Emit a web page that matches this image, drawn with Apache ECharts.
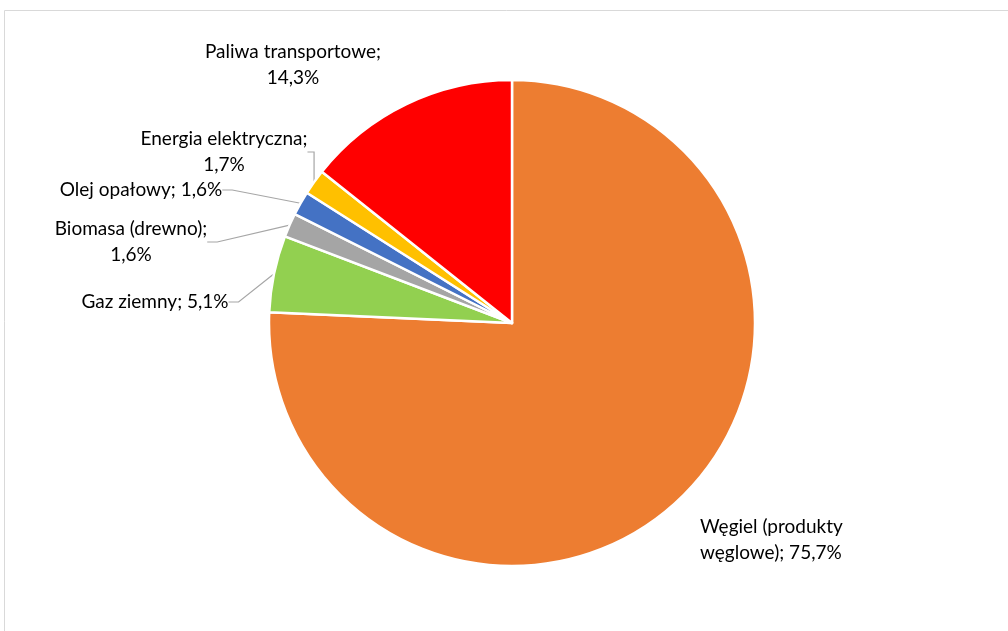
<!DOCTYPE html>
<html><head><meta charset="utf-8">
<script src="https://cdn.jsdelivr.net/npm/echarts@6/dist/echarts.min.js"></script>
<style>html,body{margin:0;padding:0;background:#fff}#c{width:1008px;height:631px}</style>
</head><body><div id="c"></div>
<script>
const names = ['Węgiel (produkty węglowe)', 'Gaz ziemny', 'Biomasa (drewno)', 'Olej opałowy', 'Energia elektryczna', 'Paliwa transportowe'];
const values = [75.7, 5.1, 1.6, 1.6, 1.7, 14.3];
const colors = ['#ED7D31', '#92D050', '#A5A5A5', '#4472C4', '#FFC000', '#FF0000'];
const labelTexts = [
  'Węgiel (produkty\nwęglowe); 75,7%',
  'Gaz ziemny; 5,1%',
  'Biomasa (drewno);\n1,6%',
  'Olej opałowy; 1,6%',
  'Energia elektryczna;\n1,7%',
  'Paliwa transportowe;\n14,3%'
];
const labelPos = [[700, 540, 'left'], [155, 302, 'center'], [131, 242, 'center'], [141, 190, 'center'], [224, 152, 'center'], [293, 65, 'center']];
const showLine = [false, true, true, true, true, false];

const chart = echarts.init(document.getElementById('c'), null, {renderer: 'canvas'});
chart.setOption({
  animation: false,
  graphic: [{type: 'rect', shape: {x: 4.5, y: 10.5, width: 1100, height: 700}, style: {fill: 'none', stroke: '#d9d9d9', lineWidth: 1}}],
  series: [{
    type: 'pie',
    center: [512, 323],
    radius: [0, 243],
    startAngle: 90,
    clockwise: true,
    avoidLabelOverlap: false,
    itemStyle: {borderColor: '#fff', borderWidth: 2.5},
    label: {
      show: true, position: 'outside', color: '#000', fontFamily: 'Lato', fontSize: 19, lineHeight: 26,
      formatter: p => labelTexts[p.dataIndex]
    },
    labelLine: {show: true, length: 10, length2: 10, lineStyle: {color: '#a6a6a6', width: 1.2}},
    labelLayout: p => ({x: labelPos[p.dataIndex][0], y: labelPos[p.dataIndex][1], align: labelPos[p.dataIndex][2], verticalAlign: 'middle'}),
    data: names.map((n, i) => ({name: n, value: values[i], itemStyle: {color: colors[i]}, labelLine: {show: showLine[i]}, label: {align: labelPos[i][2]}}))
  }]
});
</script></body></html>
